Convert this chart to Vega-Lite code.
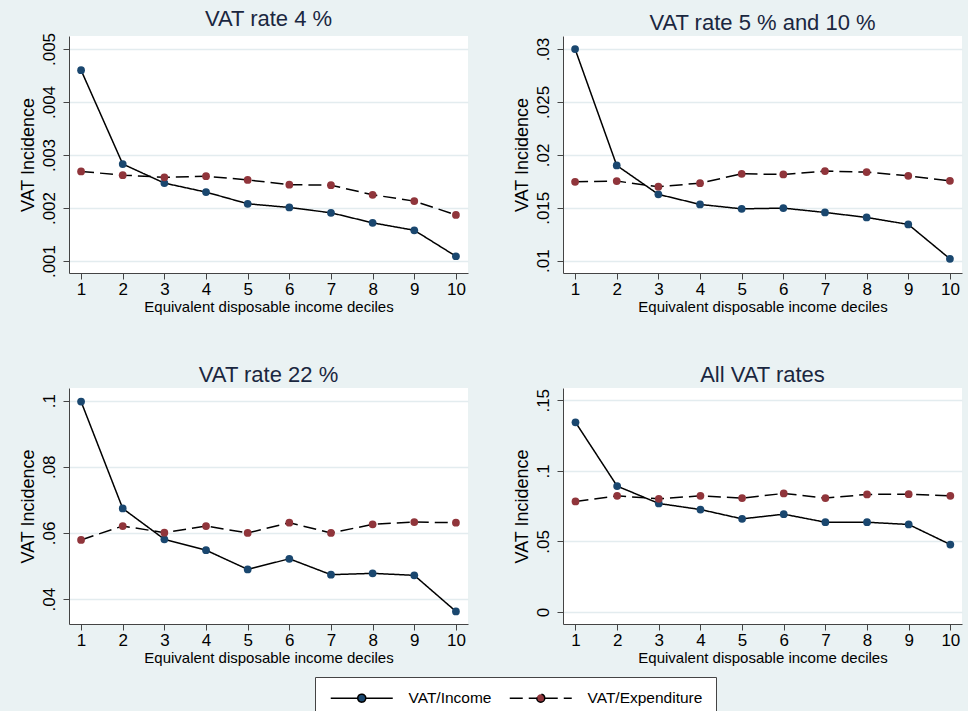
{
  "$schema": "https://vega.github.io/schema/vega-lite/v6.json",
  "background": "#EAF2F3",
  "padding": {"left": 19, "top": 8, "right": 6, "bottom": 0},
  "data": {
    "values": [
      {"panel": "p1", "decile": 1, "series": "VAT/Income", "value": 0.0046},
      {"panel": "p1", "decile": 2, "series": "VAT/Income", "value": 0.00283},
      {"panel": "p1", "decile": 3, "series": "VAT/Income", "value": 0.00247},
      {"panel": "p1", "decile": 4, "series": "VAT/Income", "value": 0.0023},
      {"panel": "p1", "decile": 5, "series": "VAT/Income", "value": 0.00208},
      {"panel": "p1", "decile": 6, "series": "VAT/Income", "value": 0.00201},
      {"panel": "p1", "decile": 7, "series": "VAT/Income", "value": 0.00191},
      {"panel": "p1", "decile": 8, "series": "VAT/Income", "value": 0.00172},
      {"panel": "p1", "decile": 9, "series": "VAT/Income", "value": 0.00158},
      {"panel": "p1", "decile": 10, "series": "VAT/Income", "value": 0.00109},
      {"panel": "p1", "decile": 1, "series": "VAT/Expenditure", "value": 0.00269},
      {"panel": "p1", "decile": 2, "series": "VAT/Expenditure", "value": 0.00262},
      {"panel": "p1", "decile": 3, "series": "VAT/Expenditure", "value": 0.00258},
      {"panel": "p1", "decile": 4, "series": "VAT/Expenditure", "value": 0.0026},
      {"panel": "p1", "decile": 5, "series": "VAT/Expenditure", "value": 0.00253},
      {"panel": "p1", "decile": 6, "series": "VAT/Expenditure", "value": 0.00244},
      {"panel": "p1", "decile": 7, "series": "VAT/Expenditure", "value": 0.00243},
      {"panel": "p1", "decile": 8, "series": "VAT/Expenditure", "value": 0.00225},
      {"panel": "p1", "decile": 9, "series": "VAT/Expenditure", "value": 0.00213},
      {"panel": "p1", "decile": 10, "series": "VAT/Expenditure", "value": 0.00187},
      {"panel": "p2", "decile": 1, "series": "VAT/Income", "value": 0.03},
      {"panel": "p2", "decile": 2, "series": "VAT/Income", "value": 0.019},
      {"panel": "p2", "decile": 3, "series": "VAT/Income", "value": 0.01627},
      {"panel": "p2", "decile": 4, "series": "VAT/Income", "value": 0.01532},
      {"panel": "p2", "decile": 5, "series": "VAT/Income", "value": 0.0149},
      {"panel": "p2", "decile": 6, "series": "VAT/Income", "value": 0.01497},
      {"panel": "p2", "decile": 7, "series": "VAT/Income", "value": 0.01456},
      {"panel": "p2", "decile": 8, "series": "VAT/Income", "value": 0.01409},
      {"panel": "p2", "decile": 9, "series": "VAT/Income", "value": 0.01343},
      {"panel": "p2", "decile": 10, "series": "VAT/Income", "value": 0.01018},
      {"panel": "p2", "decile": 1, "series": "VAT/Expenditure", "value": 0.01746},
      {"panel": "p2", "decile": 2, "series": "VAT/Expenditure", "value": 0.01752},
      {"panel": "p2", "decile": 3, "series": "VAT/Expenditure", "value": 0.01699},
      {"panel": "p2", "decile": 4, "series": "VAT/Expenditure", "value": 0.01733},
      {"panel": "p2", "decile": 5, "series": "VAT/Expenditure", "value": 0.01821},
      {"panel": "p2", "decile": 6, "series": "VAT/Expenditure", "value": 0.01815},
      {"panel": "p2", "decile": 7, "series": "VAT/Expenditure", "value": 0.01847},
      {"panel": "p2", "decile": 8, "series": "VAT/Expenditure", "value": 0.01837},
      {"panel": "p2", "decile": 9, "series": "VAT/Expenditure", "value": 0.01802},
      {"panel": "p2", "decile": 10, "series": "VAT/Expenditure", "value": 0.01755},
      {"panel": "p3", "decile": 1, "series": "VAT/Income", "value": 0.0997},
      {"panel": "p3", "decile": 2, "series": "VAT/Income", "value": 0.0674},
      {"panel": "p3", "decile": 3, "series": "VAT/Income", "value": 0.0581},
      {"panel": "p3", "decile": 4, "series": "VAT/Income", "value": 0.0548},
      {"panel": "p3", "decile": 5, "series": "VAT/Income", "value": 0.049},
      {"panel": "p3", "decile": 6, "series": "VAT/Income", "value": 0.0522},
      {"panel": "p3", "decile": 7, "series": "VAT/Income", "value": 0.0474},
      {"panel": "p3", "decile": 8, "series": "VAT/Income", "value": 0.0478},
      {"panel": "p3", "decile": 9, "series": "VAT/Income", "value": 0.0472},
      {"panel": "p3", "decile": 10, "series": "VAT/Income", "value": 0.0363},
      {"panel": "p3", "decile": 1, "series": "VAT/Expenditure", "value": 0.0579},
      {"panel": "p3", "decile": 2, "series": "VAT/Expenditure", "value": 0.0621},
      {"panel": "p3", "decile": 3, "series": "VAT/Expenditure", "value": 0.0601},
      {"panel": "p3", "decile": 4, "series": "VAT/Expenditure", "value": 0.0621},
      {"panel": "p3", "decile": 5, "series": "VAT/Expenditure", "value": 0.06},
      {"panel": "p3", "decile": 6, "series": "VAT/Expenditure", "value": 0.0631},
      {"panel": "p3", "decile": 7, "series": "VAT/Expenditure", "value": 0.06},
      {"panel": "p3", "decile": 8, "series": "VAT/Expenditure", "value": 0.0626},
      {"panel": "p3", "decile": 9, "series": "VAT/Expenditure", "value": 0.0633},
      {"panel": "p3", "decile": 10, "series": "VAT/Expenditure", "value": 0.0631},
      {"panel": "p4", "decile": 1, "series": "VAT/Income", "value": 0.1344},
      {"panel": "p4", "decile": 2, "series": "VAT/Income", "value": 0.0892},
      {"panel": "p4", "decile": 3, "series": "VAT/Income", "value": 0.0769},
      {"panel": "p4", "decile": 4, "series": "VAT/Income", "value": 0.0726},
      {"panel": "p4", "decile": 5, "series": "VAT/Income", "value": 0.066},
      {"panel": "p4", "decile": 6, "series": "VAT/Income", "value": 0.0693},
      {"panel": "p4", "decile": 7, "series": "VAT/Income", "value": 0.0636},
      {"panel": "p4", "decile": 8, "series": "VAT/Income", "value": 0.0636},
      {"panel": "p4", "decile": 9, "series": "VAT/Income", "value": 0.062},
      {"panel": "p4", "decile": 10, "series": "VAT/Income", "value": 0.0478},
      {"panel": "p4", "decile": 1, "series": "VAT/Expenditure", "value": 0.0783},
      {"panel": "p4", "decile": 2, "series": "VAT/Expenditure", "value": 0.0823},
      {"panel": "p4", "decile": 3, "series": "VAT/Expenditure", "value": 0.0802},
      {"panel": "p4", "decile": 4, "series": "VAT/Expenditure", "value": 0.0823},
      {"panel": "p4", "decile": 5, "series": "VAT/Expenditure", "value": 0.0807},
      {"panel": "p4", "decile": 6, "series": "VAT/Expenditure", "value": 0.084},
      {"panel": "p4", "decile": 7, "series": "VAT/Expenditure", "value": 0.0807},
      {"panel": "p4", "decile": 8, "series": "VAT/Expenditure", "value": 0.0833},
      {"panel": "p4", "decile": 9, "series": "VAT/Expenditure", "value": 0.0835},
      {"panel": "p4", "decile": 10, "series": "VAT/Expenditure", "value": 0.0823}
    ]
  },
  "columns": 2,
  "spacing": {"column": 45, "row": 50},
  "resolve": {"scale": {"color": "shared", "strokeDash": "shared"}, "legend": {"color": "shared", "strokeDash": "shared"}},
  "concat": [
    {
      "title": "VAT rate 4 %",
      "width": 399,
      "height": 237,
      "transform": [{"filter": "datum.panel == 'p1'"}],
      "encoding": {
        "x": {"field": "decile", "type": "quantitative", "title": "Equivalent disposable income deciles",
              "scale": {"domain": [0.71, 10.29], "nice": false, "zero": false},
              "axis": {"values": [1, 2, 3, 4, 5, 6, 7, 8, 9, 10]}},
        "y": {"field": "value", "type": "quantitative", "title": "VAT Incidence",
              "scale": {"domain": [0.000774, 0.005245], "nice": false, "zero": false},
              "axis": {"values": [0.001, 0.002, 0.003, 0.004, 0.005]}}
      },
      "layer": [
        {"mark": {"type": "line", "stroke": "black", "strokeWidth": 1.5},
         "encoding": {"detail": {"field": "series"},
                      "strokeDash": {"field": "series", "title": null,
                                     "scale": {"domain": ["VAT/Income", "VAT/Expenditure"], "range": [[1, 0], [13, 6]]}}}},
        {"mark": {"type": "point", "filled": true, "size": 60, "opacity": 1},
         "encoding": {"color": {"field": "series", "title": null,
                                "scale": {"domain": ["VAT/Income", "VAT/Expenditure"], "range": ["#1a476f", "#90353b"]}}}}
      ]
    },
    {
      "title": "VAT rate 5 % and 10 %",
      "width": 399,
      "height": 237,
      "transform": [{"filter": "datum.panel == 'p2'"}],
      "encoding": {
        "x": {"field": "decile", "type": "quantitative", "title": "Equivalent disposable income deciles",
              "scale": {"domain": [0.71, 10.29], "nice": false, "zero": false},
              "axis": {"values": [1, 2, 3, 4, 5, 6, 7, 8, 9, 10]}},
        "y": {"field": "value", "type": "quantitative", "title": "VAT Incidence",
              "scale": {"domain": [0.00884, 0.03123], "nice": false, "zero": false},
              "axis": {"values": [0.01, 0.015, 0.02, 0.025, 0.03]}}
      },
      "layer": [
        {"mark": {"type": "line", "stroke": "black", "strokeWidth": 1.5},
         "encoding": {"detail": {"field": "series"},
                      "strokeDash": {"field": "series", "title": null}}},
        {"mark": {"type": "point", "filled": true, "size": 60, "opacity": 1},
         "encoding": {"color": {"field": "series", "title": null}}}
      ]
    },
    {
      "title": "VAT rate 22 %",
      "width": 399,
      "height": 236,
      "transform": [{"filter": "datum.panel == 'p3'"}],
      "encoding": {
        "x": {"field": "decile", "type": "quantitative", "title": "Equivalent disposable income deciles",
              "scale": {"domain": [0.71, 10.29], "nice": false, "zero": false},
              "axis": {"values": [1, 2, 3, 4, 5, 6, 7, 8, 9, 10]}},
        "y": {"field": "value", "type": "quantitative", "title": "VAT Incidence",
              "scale": {"domain": [0.0325, 0.1038], "nice": false, "zero": false},
              "axis": {"values": [0.04, 0.06, 0.08, 0.1]}}
      },
      "layer": [
        {"mark": {"type": "line", "stroke": "black", "strokeWidth": 1.5},
         "encoding": {"detail": {"field": "series"},
                      "strokeDash": {"field": "series", "title": null}}},
        {"mark": {"type": "point", "filled": true, "size": 60, "opacity": 1},
         "encoding": {"color": {"field": "series", "title": null}}}
      ]
    },
    {
      "title": "All VAT rates",
      "width": 399,
      "height": 236,
      "transform": [{"filter": "datum.panel == 'p4'"}],
      "encoding": {
        "x": {"field": "decile", "type": "quantitative", "title": "Equivalent disposable income deciles",
              "scale": {"domain": [0.7, 10.28], "nice": false, "zero": false},
              "axis": {"values": [1, 2, 3, 4, 5, 6, 7, 8, 9, 10]}},
        "y": {"field": "value", "type": "quantitative", "title": "VAT Incidence",
              "scale": {"domain": [-0.0085, 0.1587], "nice": false, "zero": false},
              "axis": {"values": [0, 0.05, 0.1, 0.15]}}
      },
      "layer": [
        {"mark": {"type": "line", "stroke": "black", "strokeWidth": 1.5},
         "encoding": {"detail": {"field": "series"},
                      "strokeDash": {"field": "series", "title": null}}},
        {"mark": {"type": "point", "filled": true, "size": 60, "opacity": 1},
         "encoding": {"color": {"field": "series", "title": null}}}
      ]
    }
  ],
  "config": {
    "font": "Liberation Sans",
    "view": {"fill": "white", "stroke": null},
    "title": {"fontSize": 22, "font": "Liberation Sans", "fontWeight": "normal", "color": "#1a2740", "anchor": "middle", "frame": "group", "offset": 1},
    "axis": {
      "labelFont": "Liberation Sans", "labelFontSize": 17, "labelColor": "black",
      "titleFont": "Liberation Sans", "titleFontWeight": "normal", "titleColor": "black",
      "domainColor": "#444", "tickColor": "#444", "tickSize": 6, "domainWidth": 1, "tickWidth": 1
    },
    "axisX": {"grid": false, "labelAngle": 0, "labelPadding": 2, "titleFontSize": 15, "titlePadding": 2},
    "axisY": {
      "grid": true, "gridColor": "#E3ECEF", "gridWidth": 1.5,
      "labelAngle": -90, "labelAlign": "center", "labelBaseline": "bottom", "labelPadding": 5,
      "labelExpr": "datum.value == 0 ? '0' : substring(format(datum.value, ''), 1)",
      "titleFontSize": 18, "titlePadding": 3
    },
    "legend": {
      "orient": "none", "legendX": 246, "legendY": 641, "direction": "horizontal",
      "strokeColor": "#444", "fillColor": "white", "padding": 13,
      "labelFont": "Liberation Sans", "labelFontSize": 15.5, "labelColor": "black", "labelOffset": 65, "labelLimit": 300,
      "columnPadding": 14,
      "symbolType": "M-1,0H4.4M6,0H11.4M6,0A0.8,0.8,0,1,1,4.4,0A0.8,0.8,0,1,1,6,0",
      "symbolSize": 100, "symbolStrokeWidth": 1.5, "symbolStrokeColor": "black", "symbolOpacity": 1
    }
  }
}
